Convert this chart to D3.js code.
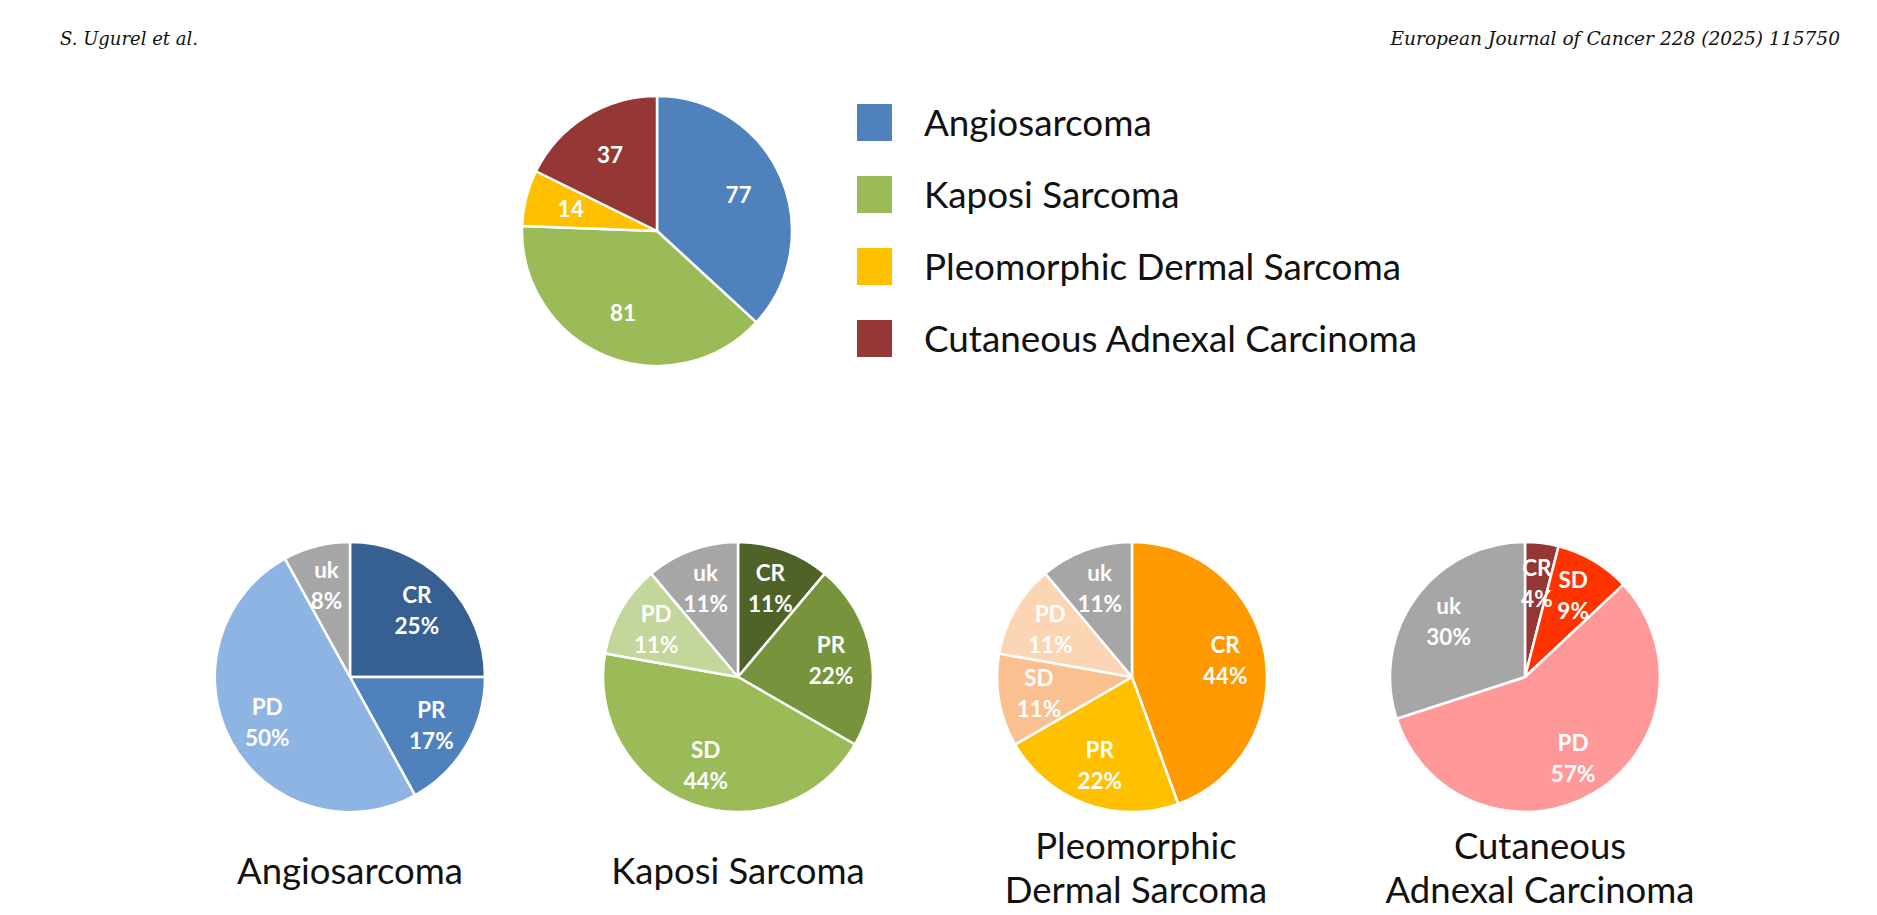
<!DOCTYPE html>
<html>
<head>
<meta charset="utf-8">
<script src="https://cdn.jsdelivr.net/npm/d3@7"></script>
<style>
  body { margin: 0; background: #ffffff; }
  svg { display: block; }
</style>
</head>
<body>
<div id="chart"></div>
<script>
//-----------------------------------------------------------------------
// data

// overview: number of patients per entity
var entityNames  = ["Angiosarcoma", "Kaposi Sarcoma", "Pleomorphic Dermal Sarcoma", "Cutaneous Adnexal Carcinoma"];
var entityCounts = [77, 81, 14, 37];
var entityColors = ["#4f81bd", "#9bbb59", "#ffc000", "#953735"];

// best response, percent of patients
var angioCats   = ["CR", "PR", "PD", "uk"];
var angioPct    = [25, 17, 50, 8];
var angioColors = ["#376092", "#4f81bd", "#8eb4e3", "#a6a6a6"];

var kaposiCats   = ["CR", "PR", "SD", "PD", "uk"];
var kaposiPct    = [11, 22, 44, 11, 11];
var kaposiColors = ["#4f6228", "#77933c", "#9bbb59", "#c3d69b", "#a6a6a6"];

var pleoCats   = ["CR", "PR", "SD", "PD", "uk"];
var pleoPct    = [44, 22, 11, 11, 11];
var pleoColors = ["#ff9900", "#ffc000", "#fac090", "#fcd5b5", "#a6a6a6"];

var cacCats   = ["CR", "SD", "PD", "uk"];
var cacPct    = [4, 9, 57, 30];
var cacColors = ["#953735", "#ff3300", "#ff9999", "#a6a6a6"];

var pieTitles = [["Angiosarcoma"], ["Kaposi Sarcoma"], ["Pleomorphic", "Dermal Sarcoma"], ["Cutaneous", "Adnexal Carcinoma"]];

var headerLeft  = "S. Ugurel et al.";
var headerRight = "European Journal of Cancer 228 (2025) 115750";

//-----------------------------------------------------------------------
// layout

var width = 1877, height = 915;
var radius = 135;
var labelFont = "Lato, 'Open Sans', sans-serif";

var svg = d3.select("#chart").append("svg")
  .attr("width", width)
  .attr("height", height);

svg.append("rect").attr("width", width).attr("height", height).attr("fill", "#ffffff");

// running header
svg.append("text")
  .attr("x", 60).attr("y", 45)
  .attr("font-family", "'DejaVu Serif', serif")
  .attr("font-style", "italic")
  .attr("font-size", 18)
  .attr("fill", "#111")
  .text(headerLeft);

svg.append("text")
  .attr("x", 1840).attr("y", 45)
  .attr("text-anchor", "end")
  .attr("font-family", "'DejaVu Serif', serif")
  .attr("font-style", "italic")
  .attr("font-size", 18.6)
  .attr("fill", "#111")
  .text(headerRight);

//-----------------------------------------------------------------------

function drawPie(cx, cy, cats, values, colors, labelRatio, labelFn)
{
  var g = svg.append("g").attr("transform", "translate(" + cx + "," + cy + ")");

  var rows = cats.map(function (c, i) { return { cat: c, value: values[i], color: colors[i] }; });

  var pie = d3.pie().sort(null).value(function (d) { return d.value; });
  var arc = d3.arc().innerRadius(0).outerRadius(radius);
  var labelArc = d3.arc().innerRadius(radius * labelRatio).outerRadius(radius * labelRatio);

  var arcs = pie(rows);

  g.selectAll("path.slice")
    .data(arcs)
    .enter()
    .append("path")
    .attr("class", "slice")
    .attr("d", arc)
    .attr("fill", function (d) { return d.data.color; })
    .attr("stroke", "#ffffff")
    .attr("stroke-width", 2.5)
    .attr("stroke-linejoin", "round");

  var labels = g.selectAll("text.lbl")
    .data(arcs)
    .enter()
    .append("text")
    .attr("class", "lbl")
    .attr("transform", function (d) { return "translate(" + labelArc.centroid(d) + ")"; })
    .attr("text-anchor", "middle")
    .attr("font-family", labelFont)
    .attr("font-weight", "bold")
    .attr("font-size", 22.5)
    .attr("fill", "#ffffff");

  labels.each(function (d) {
    var lines = labelFn(d.data);
    var t = d3.select(this);
    var y0 = 8 - (lines.length - 1) * 15.5;
    lines.forEach(function (line, k) {
      t.append("tspan").attr("x", 0).attr("y", y0 + k * 31).text(line);
    });
  });

  return g;
}

//-----------------------------------------------------------------------
// overview pie and legend

drawPie(657, 231, entityNames, entityCounts, entityColors, 0.66, function (d) { return [String(d.value)]; });

var legendY = d3.scalePoint().domain(entityNames).range([104, 320]);

var legend = svg.append("g");
legend.selectAll("rect")
  .data(entityNames)
  .enter()
  .append("rect")
  .attr("x", 857)
  .attr("y", function (d) { return legendY(d); })
  .attr("width", 35)
  .attr("height", 37)
  .attr("fill", function (d, i) { return entityColors[i]; });

legend.selectAll("text")
  .data(entityNames)
  .enter()
  .append("text")
  .attr("x", 924)
  .attr("y", function (d) { return legendY(d) + 32; })
  .attr("font-family", labelFont)
  .attr("font-size", 36.8)
  .attr("fill", "#111")
  .text(function (d) { return d; });

//-----------------------------------------------------------------------
// best response pies

var pieCentersX = [350, 738, 1132, 1525];
var titleCentersX = [350, 738, 1136, 1540];
var pieCY = 677;

var respSets = [
  [angioCats, angioPct, angioColors],
  [kaposiCats, kaposiPct, kaposiColors],
  [pleoCats, pleoPct, pleoColors],
  [cacCats, cacPct, cacColors]
];

respSets.forEach(function (s, i) {
  drawPie(pieCentersX[i], pieCY, s[0], s[1], s[2], 0.7, function (d) { return [d.cat, d.value + "%"]; });

  var title = svg.append("text")
    .attr("text-anchor", "middle")
    .attr("font-family", labelFont)
    .attr("font-size", 36.5)
    .attr("fill", "#111");

  var lines = pieTitles[i];
  var baseY = lines.length == 1 ? 884 : 859;
  lines.forEach(function (line, k) {
    title.append("tspan").attr("x", titleCentersX[i]).attr("y", baseY + k * 44).text(line);
  });
});
</script>
</body>
</html>
